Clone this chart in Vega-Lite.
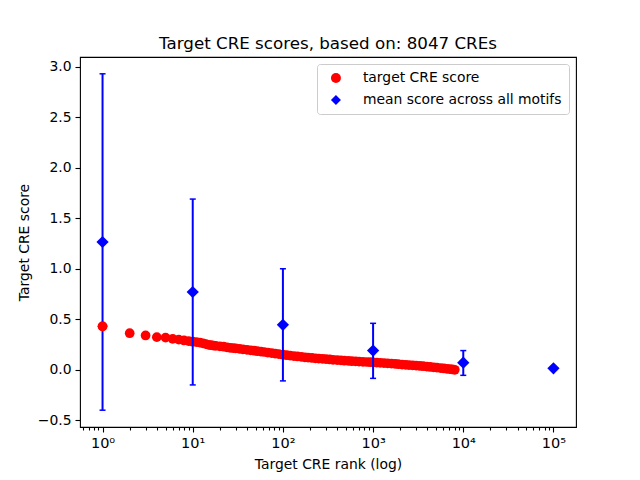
{
  "$schema": "https://vega.github.io/schema/vega-lite/v6.json",
  "width": 496,
  "height": 370,
  "autosize": {"type": "none"},
  "padding": {"left": 80, "top": 57, "right": 64, "bottom": 53},
  "background": "white",
  "title": {"text": "Target CRE scores, based on: 8047 CREs", "font": "DejaVu Sans", "fontSize": 16.7, "fontWeight": "normal", "color": "black", "offset": 4},
  "datasets": {
    "cre": [
      {"rank": 1, "score": 0.43}, {"rank": 2, "score": 0.362}, {"rank": 3, "score": 0.34}, {"rank": 4, "score": 0.323},
      {"rank": 5, "score": 0.318}, {"rank": 6, "score": 0.306}, {"rank": 7, "score": 0.298}, {"rank": 8, "score": 0.29},
      {"rank": 9, "score": 0.284}, {"rank": 10, "score": 0.278}, {"rank": 11, "score": 0.274}, {"rank": 12, "score": 0.27},
      {"rank": 13, "score": 0.262}, {"rank": 14, "score": 0.254}, {"rank": 15, "score": 0.247}, {"rank": 16, "score": 0.243},
      {"rank": 17, "score": 0.24}, {"rank": 18, "score": 0.237}, {"rank": 20, "score": 0.232}, {"rank": 22, "score": 0.228},
      {"rank": 24, "score": 0.222}, {"rank": 26, "score": 0.218}, {"rank": 28, "score": 0.215}, {"rank": 30, "score": 0.212},
      {"rank": 33, "score": 0.207}, {"rank": 36, "score": 0.203}, {"rank": 40, "score": 0.198}, {"rank": 44, "score": 0.193},
      {"rank": 48, "score": 0.189}, {"rank": 52, "score": 0.185}, {"rank": 57, "score": 0.18}, {"rank": 62, "score": 0.176},
      {"rank": 68, "score": 0.171}, {"rank": 75, "score": 0.166}, {"rank": 82, "score": 0.161}, {"rank": 90, "score": 0.155},
      {"rank": 100, "score": 0.149}, {"rank": 110, "score": 0.144}, {"rank": 120, "score": 0.14}, {"rank": 132, "score": 0.136},
      {"rank": 145, "score": 0.132}, {"rank": 160, "score": 0.128}, {"rank": 175, "score": 0.124}, {"rank": 190, "score": 0.121},
      {"rank": 210, "score": 0.117}, {"rank": 230, "score": 0.114}, {"rank": 250, "score": 0.111}, {"rank": 275, "score": 0.108},
      {"rank": 300, "score": 0.105}, {"rank": 330, "score": 0.102}, {"rank": 360, "score": 0.099}, {"rank": 400, "score": 0.096},
      {"rank": 440, "score": 0.093}, {"rank": 480, "score": 0.09}, {"rank": 530, "score": 0.088}, {"rank": 580, "score": 0.085},
      {"rank": 640, "score": 0.083}, {"rank": 700, "score": 0.081}, {"rank": 770, "score": 0.079}, {"rank": 850, "score": 0.077},
      {"rank": 930, "score": 0.075}, {"rank": 1000, "score": 0.073}, {"rank": 1100, "score": 0.071}, {"rank": 1200, "score": 0.069},
      {"rank": 1320, "score": 0.066}, {"rank": 1450, "score": 0.064}, {"rank": 1600, "score": 0.061}, {"rank": 1750, "score": 0.058},
      {"rank": 1900, "score": 0.055}, {"rank": 2100, "score": 0.052}, {"rank": 2300, "score": 0.049}, {"rank": 2500, "score": 0.047},
      {"rank": 2750, "score": 0.044}, {"rank": 3000, "score": 0.041}, {"rank": 3300, "score": 0.038}, {"rank": 3600, "score": 0.035},
      {"rank": 3950, "score": 0.031}, {"rank": 4300, "score": 0.028}, {"rank": 4700, "score": 0.024}, {"rank": 5100, "score": 0.021},
      {"rank": 5600, "score": 0.017}, {"rank": 6100, "score": 0.013}, {"rank": 6600, "score": 0.009}, {"rank": 7100, "score": 0.006},
      {"rank": 7600, "score": 0.003}, {"rank": 8047, "score": 0.0}
    ],
    "means": [
      {"rank": 1, "score": 1.265, "lo": -0.4, "hi": 2.93},
      {"rank": 10, "score": 0.77, "lo": -0.15, "hi": 1.69},
      {"rank": 100, "score": 0.445, "lo": -0.11, "hi": 1.0},
      {"rank": 1000, "score": 0.19, "lo": -0.085, "hi": 0.46},
      {"rank": 10000, "score": 0.07, "lo": -0.055, "hi": 0.19},
      {"rank": 100000, "score": 0.015, "lo": 0.015, "hi": 0.015}
    ]
  },
  "encoding": {
    "x": {
      "field": "rank", "type": "quantitative",
      "scale": {"type": "log", "domain": [0.5623, 177828], "nice": false},
      "axis": {
        "title": "Target CRE rank (log)",
        "values": [0.6, 0.7, 0.8, 0.9, 1, 2, 3, 4, 5, 6, 7, 8, 9, 10, 20, 30, 40, 50, 60, 70, 80, 90, 100, 200, 300, 400, 500, 600, 700, 800, 900, 1000, 2000, 3000, 4000, 5000, 6000, 7000, 8000, 9000, 10000, 20000, 30000, 40000, 50000, 60000, 70000, 80000, 90000, 100000],
        "labelExpr": "datum.value == 1 ? '10⁰' : datum.value == 10 ? '10¹' : datum.value == 100 ? '10²' : datum.value == 1000 ? '10³' : datum.value == 10000 ? '10⁴' : datum.value == 100000 ? '10⁵' : ''",
        "tickSize": {"condition": {"test": "indexof([1,10,100,1000,10000,100000], datum.value) >= 0", "value": 5}, "value": 3},
        "labelOverlap": false,
        "labelFlush": false,
        "labelPadding": 4,
        "labelFontSize": 14.5,
        "titlePadding": 8
      }
    }
  },
  "layer": [
    {
      "data": {"name": "cre"},
      "mark": {"type": "point", "filled": true, "size": 95, "opacity": 1},
      "encoding": {
        "y": {"field": "score", "type": "quantitative", "scale": {"domain": [-0.5665, 3.0965], "nice": false, "zero": false}, "axis": {"title": "Target CRE score", "values": [-0.5, 0, 0.5, 1, 1.5, 2, 2.5, 3], "format": ".1f", "titlePadding": 6}},
        "color": {"datum": "target CRE score", "scale": {"domain": ["target CRE score", "mean score across all motifs"], "range": ["#ff0000", "#0000ff"]}, "legend": {"title": null}},
        "shape": {"datum": "target CRE score", "scale": {"domain": ["target CRE score", "mean score across all motifs"], "range": ["circle", "diamond"]}, "legend": {"title": null}}
      }
    },
    {
      "data": {"name": "means"},
      "mark": {"type": "rule", "color": "#0000ff", "strokeWidth": 2},
      "encoding": {
        "y": {"field": "lo", "type": "quantitative", "scale": {"domain": [-0.5665, 3.0965], "nice": false, "zero": false}, "title": "Target CRE score"},
        "y2": {"field": "hi"}
      }
    },
    {
      "data": {"name": "means"},
      "mark": {"type": "tick", "orient": "horizontal", "color": "#0000ff", "size": 6, "thickness": 1.5, "opacity": 1},
      "encoding": {
        "y": {"field": "lo", "type": "quantitative", "scale": {"domain": [-0.5665, 3.0965], "nice": false, "zero": false}, "title": "Target CRE score"}
      }
    },
    {
      "data": {"name": "means"},
      "mark": {"type": "tick", "orient": "horizontal", "color": "#0000ff", "size": 6, "thickness": 1.5, "opacity": 1},
      "encoding": {
        "y": {"field": "hi", "type": "quantitative", "scale": {"domain": [-0.5665, 3.0965], "nice": false, "zero": false}, "title": "Target CRE score"}
      }
    },
    {
      "data": {"name": "means"},
      "mark": {"type": "point", "filled": true, "size": 150, "opacity": 1},
      "encoding": {
        "y": {"field": "score", "type": "quantitative", "scale": {"domain": [-0.5665, 3.0965], "nice": false, "zero": false}, "title": "Target CRE score"},
        "color": {"datum": "mean score across all motifs", "scale": {"domain": ["target CRE score", "mean score across all motifs"], "range": ["#ff0000", "#0000ff"]}, "legend": {"title": null}},
        "shape": {"datum": "mean score across all motifs", "scale": {"domain": ["target CRE score", "mean score across all motifs"], "range": ["circle", "diamond"]}, "legend": {"title": null}}
      }
    },
    {
      "data": {"name": "cre"},
      "transform": [{"filter": "datum.rank == 1"}],
      "mark": {"type": "point", "filled": true, "size": 95, "opacity": 1},
      "encoding": {
        "y": {"field": "score", "type": "quantitative", "scale": {"domain": [-0.5665, 3.0965], "nice": false, "zero": false}, "title": "Target CRE score"},
        "color": {"datum": "target CRE score", "scale": {"domain": ["target CRE score", "mean score across all motifs"], "range": ["#ff0000", "#0000ff"]}, "legend": {"title": null}},
        "shape": {"datum": "target CRE score", "scale": {"domain": ["target CRE score", "mean score across all motifs"], "range": ["circle", "diamond"]}, "legend": {"title": null}}
      }
    }
  ],
  "config": {
    "view": {"stroke": "black", "strokeWidth": 1.1},
    "axis": {
      "labelFont": "DejaVu Sans", "labelFontSize": 13.9, "labelColor": "black",
      "titleFont": "DejaVu Sans", "titleFontSize": 13.9, "titleFontWeight": "normal", "titleColor": "black",
      "tickColor": "black", "tickWidth": 1.1, "tickSize": 5, "domain": false, "grid": false, "labelPadding": 4
    },
    "legend": {
      "orient": "top-right", "offset": 7, "padding": 7,
      "strokeColor": "#cccccc", "fillColor": "white", "cornerRadius": 3,
      "labelFont": "DejaVu Sans", "labelFontSize": 13.9, "labelColor": "black", "labelLimit": 400,
      "symbolOffset": 5, "labelOffset": 20, "rowPadding": 7, "symbolSize": 100, "symbolStrokeWidth": 0, "symbolOpacity": 1
    }
  }
}
